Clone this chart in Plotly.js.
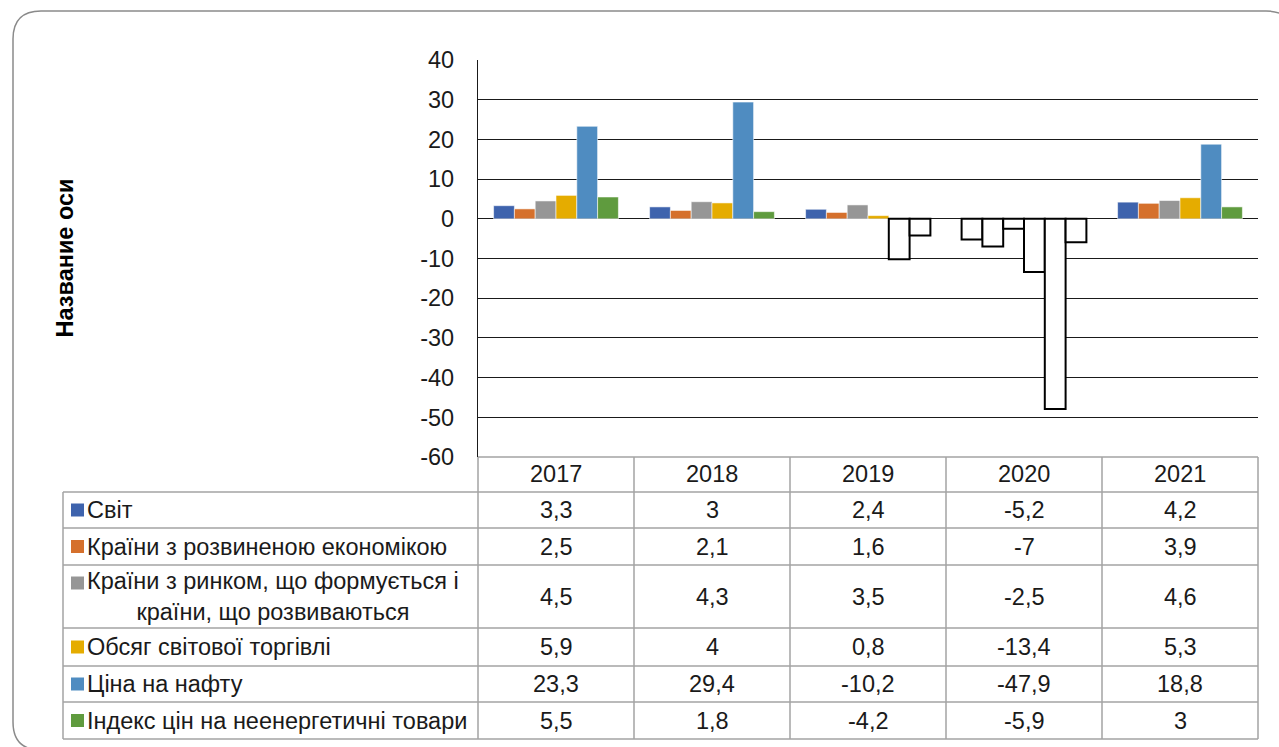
<!DOCTYPE html>
<html>
<head>
<meta charset="utf-8">
<script src="https://cdn.plot.ly/plotly-3.0.1.min.js"></script>
<style>
html,body{margin:0;padding:0;background:#fff;}
#chart{width:1279px;height:747px;}
</style>
</head>
<body>
<div id="chart"></div>
<script>
// ---- data ----
var years = ['2017', '2018', '2019', '2020', '2021'];
var seriesNames = [
  'Світ',
  'Країни з розвиненою економікою',
  'Країни з ринком, що формується і<br>країни, що розвиваються',
  'Обсяг світової торгівлі',
  'Ціна на нафту',
  'Індекс цін на неенергетичні товари'
];
var world      = [3.3, 3, 2.4, -5.2, 4.2];
var advanced   = [2.5, 2.1, 1.6, -7, 3.9];
var emerging   = [4.5, 4.3, 3.5, -2.5, 4.6];
var trade      = [5.9, 4, 0.8, -13.4, 5.3];
var oil        = [23.3, 29.4, -10.2, -47.9, 18.8];
var nonenergy  = [5.5, 1.8, -4.2, -5.9, 3];
var valueLabels = [
  ['3,3', '3', '2,4', '-5,2', '4,2'],
  ['2,5', '2,1', '1,6', '-7', '3,9'],
  ['4,5', '4,3', '3,5', '-2,5', '4,6'],
  ['5,9', '4', '0,8', '-13,4', '5,3'],
  ['23,3', '29,4', '-10,2', '-47,9', '18,8'],
  ['5,5', '1,8', '-4,2', '-5,9', '3']
];
var yTickVals = [40, 30, 20, 10, 0, -10, -20, -30, -40, -50, -60];
var axisTitle = 'Название оси';
var colors = ['#3e63ad', '#d5702c', '#969696', '#e5ac00', '#4f8cc1', '#5f9b3e'];
var allSeries = [world, advanced, emerging, trade, oil, nonenergy];

// ---- layout geometry (pixels) ----
var W = 1279, H = 747;
var PL = 478, PR = 1258, PT = 60, PB = 457;
var FONT = 'Liberation Sans, Arial, sans-serif';
var FS = 23.5;
function px(x) { return (x - PL) / (PR - PL); }
function py(y) { return (PB - y) / (PB - PT); }

var traces = allSeries.map(function (vals, i) {
  return {
    type: 'bar',
    name: seriesNames[i],
    x: years,
    y: vals,
    marker: {
      color: vals.map(function (v) { return v < 0 ? '#ffffff' : colors[i]; }),
      line: {
        color: vals.map(function (v) { return v < 0 ? '#000000' : 'rgba(255,255,255,0.55)'; }),
        width: vals.map(function (v) { return v < 0 ? 2 : 1; })
      }
    },
    hoverinfo: 'x+y+name',
    showlegend: false
  };
});

var shapes = [];
var annotations = [];
var gridCol = '#a3a3a3';

// rows of table (pixel y boundaries)
var headerTop = PB, headerBot = 492;
var rowBounds = [492, 528, 565, 628, 666, 702, 739];
var colBounds = [478, 634, 790, 946, 1102, 1258];
var tableLeft = 63;

function line(x0, y0, x1, y1) {
  shapes.push({type: 'line', xref: 'paper', yref: 'paper',
    x0: px(x0), y0: py(y0), x1: px(x1), y1: py(y1),
    line: {color: gridCol, width: 1.5}, layer: 'above'});
}
// header row
line(PL, headerTop, PR, headerTop);
colBounds.forEach(function (cx) { line(cx, headerTop, cx, rowBounds[rowBounds.length - 1]); });
// horizontal rows
rowBounds.forEach(function (ry) { line(tableLeft, ry, PR, ry); });
line(tableLeft, rowBounds[0], tableLeft, rowBounds[rowBounds.length - 1]);

// year headers
years.forEach(function (yr, j) {
  annotations.push({xref: 'paper', yref: 'paper',
    x: px((colBounds[j] + colBounds[j + 1]) / 2), y: py((headerTop + headerBot) / 2 - 1),
    text: yr, showarrow: false, xanchor: 'center', yanchor: 'middle',
    font: {family: FONT, size: FS, color: '#1a1a1a'}});
});

// legend cells and values
seriesNames.forEach(function (nm, i) {
  var top = rowBounds[i], bot = rowBounds[i + 1];
  var mid = (top + bot) / 2;
  var twoLine = nm.indexOf('<br>') >= 0;
  var sqMid = twoLine ? top + 18 : mid;
  shapes.push({type: 'rect', xref: 'paper', yref: 'paper',
    x0: px(71), x1: px(84), y0: py(sqMid - 6.5), y1: py(sqMid + 6.5),
    fillcolor: colors[i], line: {width: 0}, layer: 'above'});
  annotations.push({xref: 'paper', yref: 'paper',
    x: px(85), y: py(mid),
    text: nm, showarrow: false, xanchor: 'left', yanchor: 'middle', align: 'center',
    font: {family: FONT, size: FS, color: '#1a1a1a'}});
  valueLabels[i].forEach(function (t, j) {
    annotations.push({xref: 'paper', yref: 'paper',
      x: px((colBounds[j] + colBounds[j + 1]) / 2), y: py(mid),
      text: t, showarrow: false, xanchor: 'center', yanchor: 'middle',
      font: {family: FONT, size: FS, color: '#1a1a1a'}});
  });
});

// axis title (rotated)
annotations.push({xref: 'paper', yref: 'paper', x: px(64), y: py((PT + PB) / 2),
  text: '<b>' + axisTitle + '</b>', textangle: -90, showarrow: false,
  xanchor: 'center', yanchor: 'middle',
  font: {family: FONT, size: 23.5, color: '#000'}});

// rounded outer border
(function () {
  var l = 13, t = 11, r = 1294, b = 750, rad = 28;
  var p = 'M ' + px(l + rad) + ' ' + py(t) +
    ' L ' + px(r - rad) + ' ' + py(t) +
    ' Q ' + px(r) + ' ' + py(t) + ' ' + px(r) + ' ' + py(t + rad) +
    ' L ' + px(r) + ' ' + py(b - rad) +
    ' Q ' + px(r) + ' ' + py(b) + ' ' + px(r - rad) + ' ' + py(b) +
    ' L ' + px(l + rad) + ' ' + py(b) +
    ' Q ' + px(l) + ' ' + py(b) + ' ' + px(l) + ' ' + py(b - rad) +
    ' L ' + px(l) + ' ' + py(t + rad) +
    ' Q ' + px(l) + ' ' + py(t) + ' ' + px(l + rad) + ' ' + py(t) + ' Z';
  shapes.push({type: 'path', xref: 'paper', yref: 'paper', path: p,
    line: {color: '#8a8a8a', width: 1.5}, fillcolor: 'rgba(0,0,0,0)', layer: 'below'});
})();

var layout = {
  width: W, height: H,
  margin: {l: PL, r: W - PR, t: PT, b: H - PB, pad: 0},
  paper_bgcolor: '#ffffff',
  plot_bgcolor: '#ffffff',
  barmode: 'group',
  bargap: 0.2,
  bargroupgap: 0,
  showlegend: false,
  font: {family: FONT, size: FS, color: '#1a1a1a'},
  xaxis: {
    type: 'category',
    showticklabels: false,
    showgrid: false,
    zeroline: false,
    showline: false,
    ticks: '',
    fixedrange: true
  },
  yaxis: {
    range: [-60, 40],
    tickvals: yTickVals,
    ticktext: yTickVals.map(String),
    showgrid: true,
    gridcolor: '#1a1a1a',
    gridwidth: 1.3,
    zeroline: true,
    zerolinecolor: '#1a1a1a',
    zerolinewidth: 1.3,
    showline: true,
    linecolor: '#1a1a1a',
    linewidth: 1.3,
    ticks: '',
    ticklabelstandoff: 18,
    tickfont: {family: FONT, size: FS, color: '#1a1a1a'},
    automargin: false,
    fixedrange: true
  },
  shapes: shapes,
  annotations: annotations
};

Plotly.newPlot('chart', traces, layout, {displayModeBar: false});
</script>
</body>
</html>
